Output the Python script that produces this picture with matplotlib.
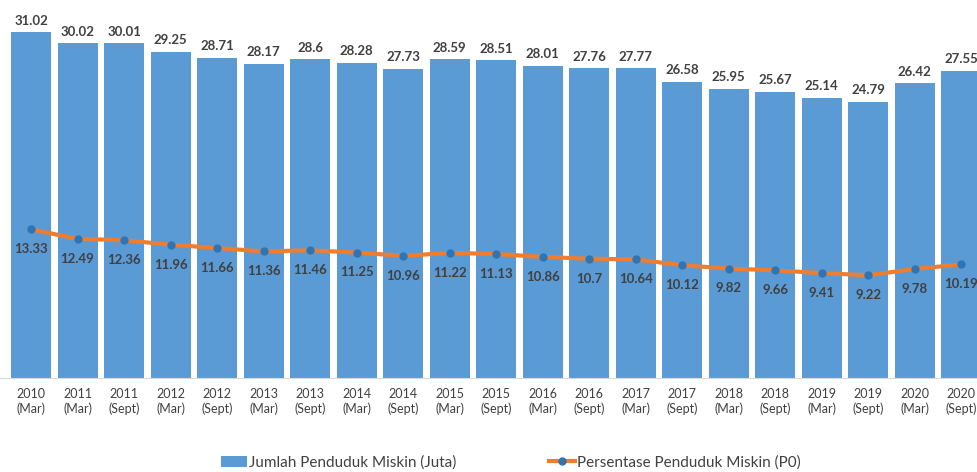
import matplotlib.pyplot as plt
import numpy as np

plt.rcParams['font.family'] = ['Lato', 'DejaVu Sans']

# data
periode = ['2010\n(Mar)', '2011\n(Mar)', '2011\n(Sept)', '2012\n(Mar)', '2012\n(Sept)',
           '2013\n(Mar)', '2013\n(Sept)', '2014\n(Mar)', '2014\n(Sept)', '2015\n(Mar)',
           '2015\n(Sept)', '2016\n(Mar)', '2016\n(Sept)', '2017\n(Mar)', '2017\n(Sept)',
           '2018\n(Mar)', '2018\n(Sept)', '2019\n(Mar)', '2019\n(Sept)', '2020\n(Mar)',
           '2020\n(Sept)']
jumlah = [31.02, 30.02, 30.01, 29.25, 28.71, 28.17, 28.6, 28.28, 27.73, 28.59,
          28.51, 28.01, 27.76, 27.77, 26.58, 25.95, 25.67, 25.14, 24.79, 26.42, 27.55]
persen = [13.33, 12.49, 12.36, 11.96, 11.66, 11.36, 11.46, 11.25, 10.96, 11.22,
          11.13, 10.86, 10.7, 10.64, 10.12, 9.82, 9.66, 9.41, 9.22, 9.78, 10.19]

bar_color = '#5B9BD5'
line_color = '#ED7D31'
dot_color = '#2E75B6'
text_color = '#404040'

fig = plt.figure(figsize=(9.77, 4.72), dpi=100)
ax = fig.add_axes((0, 0.199, 1, 0.801))

x = np.arange(len(periode))
bars = ax.bar(x, jumlah, width=0.86, color=bar_color, label='Jumlah Penduduk Miskin (Juta)', zorder=2)
line, = ax.plot(x, persen, color=line_color, linewidth=3, marker='o', markersize=5,
                markerfacecolor=dot_color, markeredgecolor=dot_color,
                label='Persentase Penduduk Miskin (P0)', zorder=3)

for xi, v in zip(x, jumlah):
    ax.annotate(f'{v:g}', (xi, v), xytext=(0, 4), textcoords='offset points',
                ha='center', va='bottom', fontsize=9.5, fontweight='bold', color=text_color)
for xi, v in zip(x, persen):
    ax.annotate(f'{v:g}', (xi, v), xytext=(0, -10), textcoords='offset points',
                ha='center', va='top', fontsize=9.5, fontweight='bold', color=text_color)

ax.set_xlim(-0.667, 20.34)
ax.set_ylim(0, 33.9)
ax.set_xticks(x)
ax.set_xticklabels(periode, fontsize=9, color=text_color, linespacing=1.25)
ax.tick_params(axis='x', length=0, pad=7)
ax.set_yticks([])
for s in ['top', 'right', 'left']:
    ax.spines[s].set_visible(False)
ax.spines['bottom'].set_color('#d9d9d9')

fig.legend(handles=[bars, line], loc='center', bbox_to_anchor=(0.523, 0.02), ncol=2,
           frameon=False, fontsize=11, handlelength=1.7, handletextpad=0.1,
           columnspacing=6.1, labelcolor=text_color, borderpad=0.2)

fig.savefig('out.png', dpi=100)
